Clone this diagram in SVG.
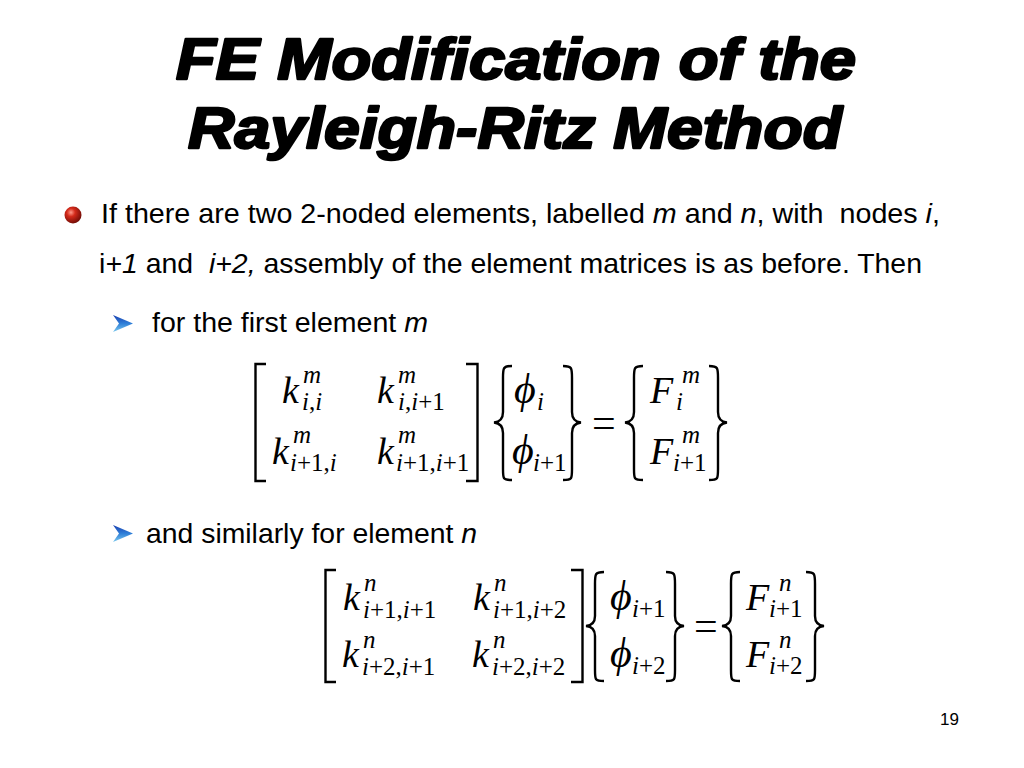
<svg xmlns="http://www.w3.org/2000/svg" width="1024" height="768" viewBox="0 0 1024 768">
<style>
.title{font-family:"Liberation Sans",Arial,sans-serif;font-weight:bold;font-style:italic;font-size:57px;fill:#000;stroke:#000;stroke-width:2.4px;stroke-linejoin:round}
.body{font-family:"Liberation Sans",Arial,sans-serif;font-size:27.5px;fill:#000;white-space:pre}
.it{font-style:italic}
.mk{font-family:"Liberation Serif","Times New Roman",serif;font-style:italic;font-size:38px;fill:#000}
.ph{font-family:"Liberation Serif","Times New Roman",serif;font-style:italic;font-size:42px;fill:#000}
.ms{font-family:"Liberation Serif","Times New Roman",serif;font-style:italic;font-size:25px;fill:#000}
.mn{font-family:"Liberation Serif","Times New Roman",serif;font-style:normal;font-size:25px;fill:#000}
.eq{font-family:"Liberation Serif","Times New Roman",serif;font-size:42px;fill:#000}
.br{fill:none;stroke:#000;stroke-width:2.4}
.pg{font-family:"Liberation Sans",Arial,sans-serif;font-size:17px;fill:#000}
</style>
<defs>
<radialGradient id="ball" cx="0.38" cy="0.35" r="0.7">
<stop offset="0" stop-color="#ff9a8a"/>
<stop offset="0.35" stop-color="#d42a1a"/>
<stop offset="1" stop-color="#6a0a05"/>
</radialGradient>
<linearGradient id="arr" x1="0" y1="0" x2="0" y2="1">
<stop offset="0" stop-color="#1a3fb0"/>
<stop offset="0.5" stop-color="#2f7fd8"/>
<stop offset="1" stop-color="#7ac8ee"/>
</linearGradient>
<g id="chev"><path d="M0,0 L20,8.5 L0,17 L6,8.5 Z" fill="url(#arr)"/></g>
</defs>
<rect width="1024" height="768" fill="#fff"/>

<g id="title">
<text class="title" x="176" y="79" textLength="680" lengthAdjust="spacingAndGlyphs">FE Modification of the</text>
<text class="title" x="188" y="148" textLength="654" lengthAdjust="spacingAndGlyphs">Rayleigh-Ritz Method</text>
</g>

<g id="bullet1">
<circle cx="73" cy="215" r="8.5" fill="url(#ball)"/>
<text class="body" x="101" y="223" textLength="839" lengthAdjust="spacingAndGlyphs">If there are two 2-noded elements, labelled <tspan class="it">m</tspan> and <tspan class="it">n</tspan>, with  nodes <tspan class="it">i</tspan>,</text>
<text class="body" x="99" y="273" textLength="823" lengthAdjust="spacingAndGlyphs">i<tspan class="it">+1</tspan> and  <tspan class="it">i+2,</tspan> assembly of the element matrices is as before. Then</text>
</g>

<g id="bullet2">
<use href="#chev" x="113" y="315"/>
<text class="body" x="152" y="332" textLength="276" lengthAdjust="spacingAndGlyphs">for the first element <tspan class="it">m</tspan></text>
</g>

<g id="matrix1">
<path class="br" d="M266,364 H255.5 V481 H266"/>
<path class="br" d="M466,364 H477.5 V481 H466"/>
<text class="mk" x="282" y="403">k</text><text class="ms" x="303" y="383">m</text><text class="ms" x="302" y="410">i<tspan class="mn">,</tspan>i</text>
<text class="mk" x="377" y="403">k</text><text class="ms" x="398" y="383">m</text><text class="ms" x="398" y="410">i<tspan class="mn">,</tspan>i<tspan class="mn">+1</tspan></text>
<text class="mk" x="272" y="464">k</text><text class="ms" x="293" y="443">m</text><text class="ms" x="290" y="471">i<tspan class="mn">+1,</tspan>i</text>
<text class="mk" x="377" y="464">k</text><text class="ms" x="398" y="443">m</text><text class="ms" x="396" y="471">i<tspan class="mn">+1,</tspan>i<tspan class="mn">+1</tspan></text>
<path class="br" d="M512,366 C503,366 503,368 503,378 L503,412 C503,420 499,422 494,422.5 C499,423 503,425 503,433 L503,469 C503,479 503,480 512,480"/>
<text class="ph" x="514" y="403">ϕ</text><text class="ms" x="537" y="410">i</text>
<text class="ph" x="512" y="464">ϕ</text><text class="ms" x="533" y="471">i<tspan class="mn">+1</tspan></text>
<path class="br" d="M563,366 C572,366 572,368 572,378 L572,412 C572,420 576,422 581,422.5 C576,423 572,425 572,433 L572,469 C572,479 572,480 563,480"/>
<text class="eq" x="592" y="437">=</text>
<path class="br" d="M643,366 C634,366 634,368 634,378 L634,412 C634,420 630,422 625,422.5 C630,423 634,425 634,433 L634,469 C634,479 634,480 643,480"/>
<text class="mk" x="650" y="403">F</text><text class="ms" x="682" y="383">m</text><text class="ms" x="676" y="410">i</text>
<text class="mk" x="650" y="464">F</text><text class="ms" x="682" y="443">m</text><text class="ms" x="673" y="471">i<tspan class="mn">+1</tspan></text>
<path class="br" d="M709,366 C718,366 718,368 718,378 L718,412 C718,420 722,422 727,422.5 C722,423 718,425 718,433 L718,469 C718,479 718,480 709,480"/>
</g>

<g id="bullet3">
<use href="#chev" x="113" y="525"/>
<text class="body" x="146" y="543" textLength="331" lengthAdjust="spacingAndGlyphs">and similarly for element <tspan class="it">n</tspan></text>
</g>

<g id="matrix2">
<path class="br" d="M336,570 H325.5 V682 H336"/>
<path class="br" d="M571,570 H582.5 V682 H571"/>
<text class="mk" x="343" y="610">k</text><text class="ms" x="364" y="591">n</text><text class="ms" x="363" y="618">i<tspan class="mn">+1,</tspan>i<tspan class="mn">+1</tspan></text>
<text class="mk" x="473" y="610">k</text><text class="ms" x="494" y="591">n</text><text class="ms" x="493" y="618">i<tspan class="mn">+1,</tspan>i<tspan class="mn">+2</tspan></text>
<text class="mk" x="342" y="667">k</text><text class="ms" x="363" y="648">n</text><text class="ms" x="362" y="675">i<tspan class="mn">+2,</tspan>i<tspan class="mn">+1</tspan></text>
<text class="mk" x="472" y="667">k</text><text class="ms" x="493" y="648">n</text><text class="ms" x="492" y="675">i<tspan class="mn">+2,</tspan>i<tspan class="mn">+2</tspan></text>
<path class="br" d="M604,572 C595,572 595,574 595,584 L595,616 C595,623 591,625.5 586,626 C591,626.5 595,629 595,636 L595,670 C595,680 595,681 604,681"/>
<text class="ph" x="610" y="610">ϕ</text><text class="ms" x="632" y="617">i<tspan class="mn">+1</tspan></text>
<text class="ph" x="610" y="667">ϕ</text><text class="ms" x="632" y="674">i<tspan class="mn">+2</tspan></text>
<path class="br" d="M666,572 C675,572 675,574 675,584 L675,616 C675,623 679,625.5 684,626 C679,626.5 675,629 675,636 L675,670 C675,680 675,681 666,681"/>
<text class="eq" x="694" y="640">=</text>
<path class="br" d="M740,572 C731,572 731,574 731,584 L731,616 C731,623 727,625.5 722,626 C727,626.5 731,629 731,636 L731,670 C731,680 731,681 740,681"/>
<text class="mk" x="746" y="610">F</text><text class="ms" x="779" y="591">n</text><text class="ms" x="769" y="617">i<tspan class="mn">+1</tspan></text>
<text class="mk" x="746" y="667">F</text><text class="ms" x="779" y="648">n</text><text class="ms" x="769" y="674">i<tspan class="mn">+2</tspan></text>
<path class="br" d="M806,572 C815,572 815,574 815,584 L815,616 C815,623 819,625.5 824,626 C819,626.5 815,629 815,636 L815,670 C815,680 815,681 806,681"/>
</g>

<text class="pg" x="940" y="725">19</text>
</svg>
